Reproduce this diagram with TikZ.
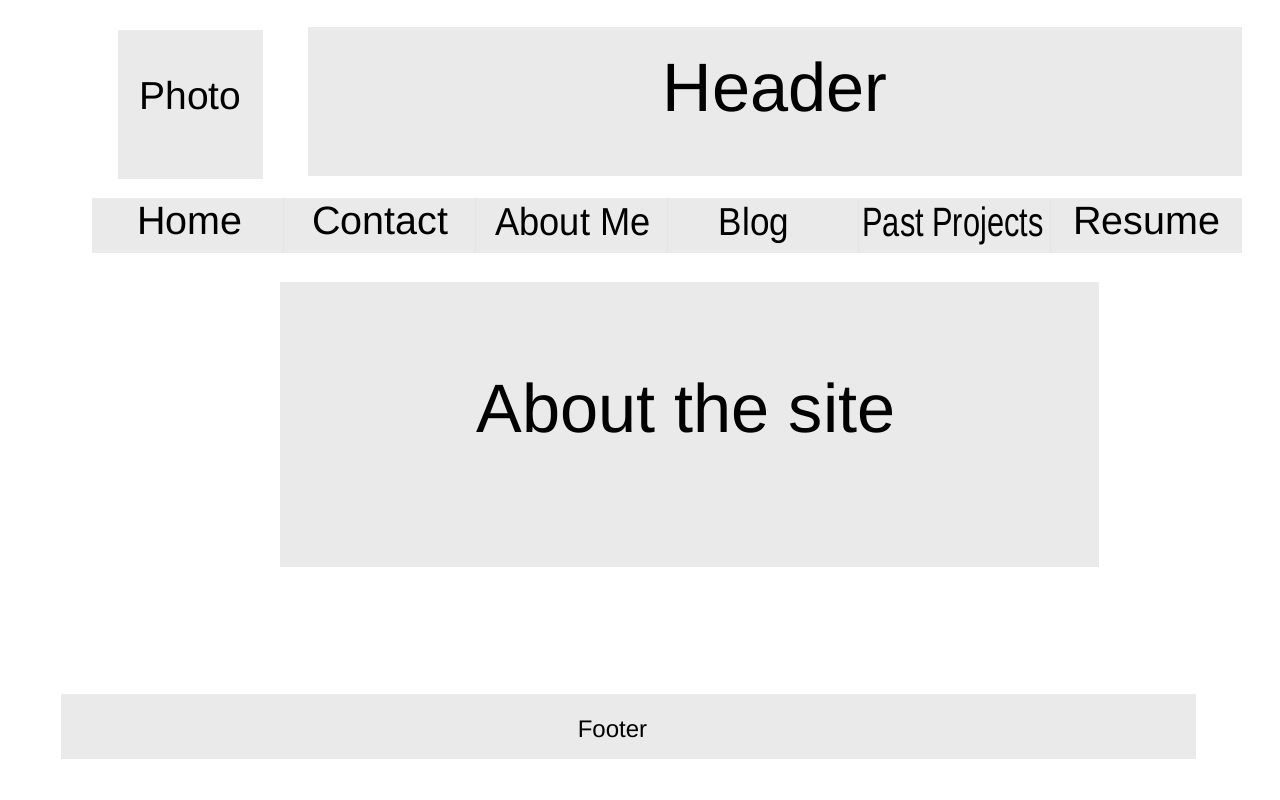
\documentclass[tikz,border=0pt]{standalone}
\usepackage{fontspec}
\setmainfont{Liberation Sans}
\usepackage{graphicx}
\definecolor{panel}{HTML}{EAEAEA}
\definecolor{seam}{HTML}{E4E4E4}
\begin{document}
\begin{tikzpicture}[x=1pt,y=-1pt,
  box/.style={fill=panel,draw=none,rectangle,inner sep=0pt,outer sep=0pt},
  navcell/.style={box,minimum width=191.67pt,minimum height=55pt},
  lbl/.style={anchor=base,inner sep=0pt,outer sep=0pt,text=black},
  huge/.style={lbl,font=\fontsize{68.5}{80}\selectfont},
  mid/.style={lbl,font=\fontsize{39.5}{44}\selectfont},
  small/.style={lbl,font=\fontsize{24}{28}\selectfont}]
\useasboundingbox (0,0) rectangle (1280,800);

% photo and header blocks
\node[box,minimum width=145pt,minimum height=149pt] (photo) at (190.5,104.5) {};
\node[box,minimum width=934pt,minimum height=149pt] (header) at (775,101.5) {};
\node[lbl,font=\fontsize{39}{44}\selectfont] (photoText) at (190.5,109.3) {Photo};
\node[huge] (headerText) at (775,111.7) {Header};

% navigation bar, six equal cells
\foreach \i/\nm in {0/home,1/contact,2/aboutme,3/blog,4/past,5/resume}{
  \node[navcell] (\nm) at ({92+191.67*\i+95.83},225.5) {};
}
\foreach \a/\b in {home/contact,contact/aboutme,aboutme/blog,blog/past,past/resume}{
  \draw[seam,line width=0.8pt] (\a.north east) -- (\a.south east);
}
\node[mid] (homeText) at (190,234) {Home};
\node[mid] (contactText) at (380.5,234) {Contact};
\node[lbl,font=\fontsize{39}{44}\selectfont] (aboutmeText) at (573,235)
  {\scalebox{0.93}[1]{About Me}};
\node[lbl,font=\fontsize{39}{44}\selectfont] (blogText) at (754,235)
  {\scalebox{0.9}[1]{Blog}};
\node[lbl,font=\fontsize{41}{46}\selectfont] (pastText) at (953,236.5)
  {\scalebox{0.75}[1]{Past Projects}};
\node[mid] (resumeText) at (1147,234) {Resume};

% main content block
\node[box,minimum width=819pt,minimum height=285pt] (about) at (689.5,424.5) {};
\node[huge] (aboutText) at (686,432) {About the site};

% footer
\node[box,minimum width=1135pt,minimum height=65pt] (footer) at (628.5,726.5) {};
\node[small] (footerText) at (612.5,737) {Footer};
\end{tikzpicture}
\end{document}
